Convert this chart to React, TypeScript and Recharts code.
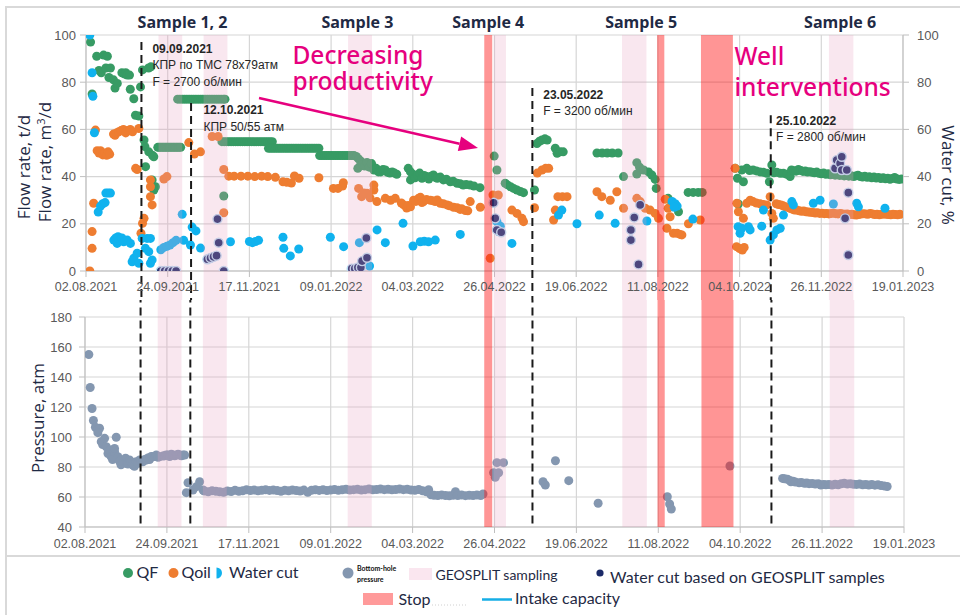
import React from "react";
import {
  ScatterChart, Scatter, XAxis, YAxis, CartesianGrid,
  ReferenceArea, ReferenceLine, ReferenceDot,
} from "recharts";

// x values are days counted from 02.08.2021
const dateTicks = [0, 53.5, 107, 160.5, 214, 267.5, 321, 374.5, 428, 481.5, 535];
const dateLabels = [
  "02.08.2021", "24.09.2021", "17.11.2021", "09.01.2022", "04.03.2022", "26.04.2022",
  "19.06.2022", "11.08.2022", "04.10.2022", "26.11.2022", "19.01.2023",
];
const flowTicks = [0, 20, 40, 60, 80, 100];
const pressureTicks = [40, 60, 80, 100, 120, 140, 160, 180];

// QF, t/d
const qf: [number, number][] = [
  [3, 97], [4, 75], [7, 91], [8.5, 85], [10, 84], [11.5, 91.5], [13, 86], [14, 91], [15, 82], [16, 86],
  [18, 81], [19, 77.5], [20.5, 79.5], [23.5, 84], [25, 83.5], [26, 84], [27, 83], [28.5, 83], [29, 77],
  [31.3, 73], [32.4, 66], [34.6, 65.7], [35.7, 78], [37, 85.2], [38, 55.5], [38.6, 52.7], [39, 44.2],
  [41, 86], [42.5, 86.5], [41.1, 50.5], [43.5, 49], [43.3, 38.6], [44.4, 48.4], [44.4, 34.3], [45.5, 35.7],
  [47, 52.4], [48, 52.4], [49, 52.4], [50, 52.4], [51, 52.4], [52, 52.4], [53, 52.4], [54, 52.4],
  [55, 52.4], [56, 52.4], [57, 52.4], [58, 52.4], [59, 52.4], [60, 52.4], [61, 52.4], [62, 52.4],
  [60, 72.8], [61.5, 72.8], [63, 72.8], [64.5, 72.8], [66, 72.8], [67.5, 72.8], [69, 72.8], [70.5, 72.8],
  [72, 72.8], [73.5, 72.8], [75, 72.8], [76.5, 72.8], [78, 72.8], [79.5, 72.8], [81, 72.8], [82.5, 72.8],
  [84, 72.8], [85.5, 72.8], [87, 72.8], [88.5, 72.8], [90, 72.8], [91, 72.8],
  [90.2, 31.8],
  [89, 54.8], [90.5, 54.8], [92, 54.8], [93.5, 54.8], [95, 54.8], [96.5, 54.8], [98, 54.8], [99.5, 54.8],
  [101, 54.8], [102.5, 54.8], [104, 54.8], [105.5, 54.8], [107, 54.8], [108.5, 54.8], [110, 54.8],
  [111.5, 54.8], [113, 54.8], [114.5, 54.8], [116, 54.8], [117.5, 54.8], [119, 54.8], [120.5, 54.8], [122, 54.8],
  [119.5, 52], [121, 52], [122.5, 52], [124, 52], [125.5, 52], [127, 52], [128.5, 52], [130, 52],
  [131.5, 52], [133, 52], [134.5, 52], [136, 52], [137.5, 52], [139, 52], [140.5, 52], [142, 52],
  [143.5, 52], [145, 52], [146.5, 52], [148, 52], [149.5, 52], [151, 52], [152.5, 52],
  [153, 48.9], [154.5, 48.9], [156, 48.9], [157.5, 48.9], [159, 48.9], [160.5, 48.9], [162, 48.9],
  [163.5, 48.9], [165, 48.9], [166.5, 48.9], [168, 48.9], [169.5, 48.9], [171, 48.9], [172.5, 48.9],
  [174, 48.9], [175.5, 48.9], [177, 48.5], [178.5, 47.5], [180, 46.5],
  [178, 43.5], [179.5, 44.5], [181, 45], [182.5, 44.5], [184, 46], [185.5, 44], [187, 45.5],
  [188.5, 42.8], [190, 43.5], [191.5, 42], [193, 42], [194.5, 43], [196, 42.8], [197.5, 41.8],
  [199, 41.5], [200.5, 42], [202, 41.5], [203.5, 41],
  [211, 43.5], [212.5, 42], [212.5, 38.6], [214, 41], [215.5, 39.5], [217, 40.7], [218.5, 41.5],
  [220, 39.3], [221.5, 40.5], [223, 40], [224.5, 39], [226, 40.2], [227.5, 40.7], [229, 39.6],
  [230, 39.3], [232, 39.8], [234, 38.6], [236, 38.9], [238.5, 37.8], [240.5, 38], [243, 37.2],
  [245, 37], [247, 36.4], [249, 36.6], [251.5, 36.4], [254, 36], [258, 35.3],
  [267.3, 48.7], [269.1, 42.8], [274.5, 37.2], [276, 36.5], [278, 35.7], [280, 35], [282.2, 34.3],
  [284.5, 33.7], [286.5, 33.2],
  [293.7, 34.3], [295.3, 54], [297, 55], [298.6, 55.5], [300.5, 56], [302, 55.5], [307.3, 52],
  [308.5, 49.9], [310.5, 50.5], [312.5, 50.5],
  [334.6, 50], [338, 50], [341.3, 50], [344.6, 50], [348.5, 50],
  [352, 40], [360.7, 45.9], [360.7, 41.1], [362.5, 44], [365.1, 42.8], [368.3, 42], [370.5, 40.7],
  [372.7, 38.8], [373.4, 35],
  [381.2, 30.8], [383.5, 29], [386, 27.2], [388, 25.1],
  [394.3, 33.3], [397.6, 33.3], [400.9, 33.3], [403.5, 33.3],
  [425.1, 43.5], [426.6, 39.3], [427.2, 28.4], [429.4, 42.8], [430.5, 37.8], [432.7, 43.5], [434.5, 42.6],
  [436.8, 42.8], [439, 42.4], [441.4, 42], [443.6, 41.8], [445.8, 41.4], [447.5, 37.8], [449.1, 44.9],
  [450.5, 41.6], [452.4, 41.8], [454.6, 41.4], [456.7, 41.4], [458.9, 41], [461.1, 40],
  [462, 42.8], [463.5, 42.5], [465, 42.3], [466.5, 43], [468, 42.6], [469.5, 42.2], [471, 42.4],
  [472.5, 41.9], [474, 42.1], [475.5, 41.8], [477, 41.6], [478.5, 41.9], [480, 41.4], [481.5, 41.2],
  [483, 41.5], [484.5, 41], [486, 41.2], [487.5, 40.8], [489, 41], [490.5, 40.6], [492, 40.8],
  [493.5, 40.5], [495, 40.7], [496.5, 40.3], [498, 40.5], [499.5, 40.2], [501, 40.4], [502.5, 40],
  [504, 40.3], [505.5, 40.6], [507, 40], [508.5, 39.8], [510, 40.1], [511.5, 39.7], [513, 39.9],
  [514.5, 39.5], [516, 39.8], [517.5, 39.4], [519, 39.6], [520.5, 39.2], [522, 39.5], [523.5, 39.1],
  [525, 39.3], [526.5, 38.9], [528, 39.2], [529.5, 39.6], [531, 39], [532.5, 38.8], [534, 39],
];

// Qoil, m3/d
const qoil: [number, number][] = [
  [2.5, 0], [4, 16.7], [4, 9.6], [5, 28.7], [6.2, 59.7], [7.3, 51], [8.5, 50], [9.5, 51], [11, 49.2],
  [12.3, 50], [13.5, 49], [14.5, 50.5], [15.5, 49.5],
  [18, 58], [19, 57.5], [20, 58.5], [21.5, 59], [23, 59.5], [24.5, 60], [26, 58.5], [27.5, 59.5],
  [29, 60], [30.5, 59],
  [32.5, 43.5], [33.5, 43], [34.6, 60.4], [36, 16], [37, 20.2], [38, 22.3], [42.2, 38.6], [42.2, 35.7],
  [42.2, 31.5], [43.3, 28], [51, 39], [53, 40],
  [67.3, 54.4], [71, 49.6], [75, 50.5], [82.6, 57], [86.5, 57], [90.2, 24.7], [90.2, 43],
  [93.5, 40.2], [97, 40.2], [101.5, 40.2], [106, 40.2], [110.5, 40], [115, 40.2], [119, 40], [124, 39.7],
  [129, 37.8], [131.5, 37.6], [134.5, 37.3], [136.5, 40.3], [139.5, 39.3], [152.5, 39.5],
  [162, 35], [165, 35], [168, 36], [168.5, 37.4], [178.5, 35], [180.5, 31.5], [182, 33], [184, 32.9],
  [186, 31], [188.5, 36.4], [188.5, 34.3], [190.5, 29.4], [196, 30.8], [199.5, 30], [202.5, 30.8],
  [206.5, 28.8], [208, 28], [210, 26.7], [211, 27.8], [212.5, 27.2], [214.5, 30], [216, 29.5],
  [217.8, 30.8], [219, 31.2], [220, 29], [221, 29.4], [223, 30.3], [225.5, 30], [227, 29.8],
  [228.7, 29.4], [230, 30.1], [232, 28.7], [234, 28.5], [236.4, 28], [238, 27.6], [240.7, 27],
  [243, 26.8], [245, 26.1], [246, 26.4], [248.4, 25.6], [250, 25.5], [251.6, 29.4], [258.2, 27],
  [264.7, 5.4], [266.5, 32.2], [270, 32.2], [278.9, 25.8], [282.2, 24.4], [285.5, 22.3], [286.5, 20.9],
  [293.7, 26.8], [295.5, 41.5], [298.6, 42.8], [301, 43.5], [303, 43.5], [306.2, 21.6], [307.3, 25.8],
  [309, 31.5], [312, 31.5], [315, 31.5],
  [334.6, 33.6], [337.8, 31.5], [343.3, 30], [347.6, 33.6], [352, 26.6], [360.7, 30.8], [362.9, 29.4],
  [366.2, 26.6], [369.4, 25.8], [372.7, 24.4], [374.9, 22.3],
  [379.3, 30.4], [381.2, 26.6], [382.5, 23], [380.4, 18.1], [384.7, 16], [387.1, 16], [389, 15.5],
  [390.2, 15.3], [394.5, 20], [402.2, 21.6],
  [425.1, 43.5], [426.2, 28.7], [427.2, 25.1], [430.5, 22.3], [426, 10.3], [428, 9.5], [429.8, 8.9],
  [431, 10], [432.7, 28.7], [434.9, 30], [436.8, 29.4], [439, 28.8], [441.4, 28.5], [443.6, 28.2],
  [445.8, 28], [448, 31.5], [449.1, 24.4], [450.1, 22.3],
  [452, 28.5], [453.5, 28.2], [455, 28], [456.5, 27.6], [458, 27.2], [459.5, 27], [461, 26.6],
  [462.5, 26.2], [464, 25.8], [465.5, 25.8], [467, 25.5], [468.5, 25.3], [470, 25.4], [471.5, 25.1],
  [473, 25], [474.5, 24.9], [476, 24.8], [477.5, 24.6], [479, 24.7], [480.5, 24.4], [482, 24.5],
  [483.5, 24.3], [485, 24.4], [486.5, 24.2], [488, 24.4], [489.5, 24.5], [491, 24.3], [492.5, 24.2],
  [494, 24.4], [495.5, 24.1], [497, 24], [498.5, 24.2], [500, 23.9], [501.5, 24], [503, 23.8],
  [504.5, 23.7], [506, 23.9], [507.5, 24.1], [509, 24.3], [510.5, 24.2], [512, 24], [513.5, 24.4],
  [515, 24.2], [516.5, 23.9], [518, 24], [519.5, 23.8], [521, 24], [522.5, 24.1], [524, 24],
  [525.5, 23.9], [527, 23.8], [528.5, 24], [530, 23.9], [531.5, 23.8], [533, 24],
];

// Water cut, %
const waterCut: [number, number][] = [
  [2.5, 100], [4, 84], [4.5, 74], [5.5, 58.6], [8, 25], [9.5, 27.5], [11, 28.5], [12.5, 29], [13, 33],
  [14.5, 33], [16, 33],
  [18.2, 13.1], [19.5, 14], [20.4, 11.7], [21, 14.5], [22.6, 13.1], [23.5, 14], [24.7, 12.4], [27, 13.1],
  [29.1, 11.7], [30.2, 3.9], [31.3, 5.4], [33.5, 7.5], [34.6, 3.3], [36.8, 13.8], [38.9, 9.6], [40, 13.8],
  [41.1, 8.2], [42.2, 13.8], [42.2, 3.3], [43.3, 4.7],
  [49, 9], [51, 10], [53, 10.5], [55, 11], [57, 12], [59, 13], [63, 24], [64, 13], [68.4, 11],
  [69.5, 18.6], [72, 17], [75, 9.7], [94.6, 12.4], [107, 12.5], [109, 12], [111, 12.5], [113, 13],
  [129, 14.3], [129.5, 9.6], [133.8, 6.4], [139.3, 9.3], [160, 14.3], [168.7, 10.3], [179, 12],
  [185.7, 2.1], [190.6, 17.4], [196, 12], [207.6, 20.2], [214.1, 10.6], [218.9, 12.4], [221.5, 12.6],
  [224.3, 12.4], [228.7, 13.1], [245.1, 15.5],
  [269.1, 20.9], [270.2, 16.7], [271.3, 19], [278.9, 11.7], [309.4, 23.7], [311.6, 25.8], [321.5, 20],
  [336.1, 23.7], [346.5, 20.2], [367.3, 21.2],
  [383.8, 29.5], [385.8, 28.5], [387.1, 27.5], [385.2, 27], [397.4, 22],
  [427, 18.8], [428.3, 16], [429.4, 18.1], [433.8, 18.8], [434.9, 17.4], [442.5, 19], [443.6, 25.8],
  [448, 13.1], [450.1, 15.3], [452.4, 17.4], [454.6, 18.1], [456.7, 23.7], [462.2, 29.4], [463.2, 28],
  [476.3, 28.7], [480.7, 30], [489.4, 28.4], [504.7, 28.7], [505.8, 27.2], [523.2, 26.6],
];

// Water cut based on GEOSPLIT samples, %
const geosplitCut: [number, number][] = [
  [49, 0], [51.5, 0], [54, 0], [56.5, 0], [59, 0], [79.5, 5], [81.5, 5.5], [83.5, 6], [85.5, 6.5],
  [86.1, 22], [86.9, 12], [90.2, 0],
  [174, 1], [176, 1], [178, 1.5], [180, 1.5], [180.8, 4.2], [183.6, 14], [184, 5.6],
  [266.9, 28.9], [268, 22.3], [269.1, 17.4], [271.9, 16.4],
  [356.8, 17.4], [356.8, 13.1], [359, 22.7], [361.8, 2.8], [362.9, 28],
  [490.5, 43.5], [491.6, 47], [493.8, 45.6], [494.9, 48.4], [494.9, 42.8], [497.1, 22.3], [498.2, 42.8],
  [499.2, 33.2], [499.2, 6.8],
];

// Bottom-hole pressure, atm
const pressure: [number, number][] = [
  [2.5, 155], [3.4, 133], [4.6, 119], [5.5, 111], [6.8, 106.5], [8.4, 104.7], [9.5, 105.8], [8.4, 102.9],
  [10.6, 96.9], [11.5, 95], [12.8, 99.1], [13.9, 93.5], [15, 89], [16, 91.3], [17.1, 86.9], [18, 85],
  [19.3, 90.2], [20.4, 99.8], [19.3, 92.4], [21.5, 86.9], [22.5, 84], [23.5, 81.5], [24.7, 82.4],
  [26.5, 85.8], [27.5, 83], [28, 82], [29.1, 84.7], [30, 83.5], [31.3, 81.3], [32.3, 80.5], [33.5, 83.5],
  [34.6, 82.5], [35.7, 84.7], [36.8, 84], [37.8, 83.5], [39, 85], [40, 84.7], [41.1, 86], [42.2, 85],
  [43.3, 87], [44.4, 86.9], [45.5, 87], [46.6, 88], [47.7, 86.5], [48.8, 86.9], [50.9, 87.3],
  [52, 87.5], [53.1, 88], [54.2, 88], [55.3, 87], [56.4, 88.5], [57.5, 88], [58.6, 87.5], [59.7, 88],
  [60.8, 88.5], [61.8, 88], [63, 87.5], [64, 88], [65.1, 88],
  [66.2, 62.9], [67.3, 69.5], [70.5, 64.7], [72.8, 66.9], [74.9, 70.2], [77.1, 64.7],
  [78, 64], [80.5, 63.5], [83, 64.2], [85.5, 63.8], [88, 63.5], [90.5, 63.2], [93, 64], [95.5, 63.6],
  [98, 64.5], [100.5, 63.8], [103, 64.2], [105.5, 64.8], [108, 64.3], [110.5, 64.6], [113, 64.2],
  [115.5, 64.5], [118, 64.8], [120.5, 64.4], [123, 64.6], [125.5, 64.3], [128, 63.8], [130.5, 64.5],
  [133, 64.2], [135.5, 64.7], [138, 64.3], [140.5, 64], [143, 64.6], [145.5, 63.2], [148, 64.5],
  [150.5, 64.8], [153, 64.4], [155.5, 64.8], [158, 64.3], [160.5, 64.6], [163, 65], [165.5, 64.5],
  [168, 64.8], [170.5, 65.2], [173, 64.7], [175.5, 64.9], [178, 65.1], [180.5, 64.6], [183, 64.9],
  [185.5, 65.3], [188, 64.8], [190.5, 65], [193, 65.3], [195.5, 64.9], [198, 65.2], [200.5, 64.8],
  [203, 65], [205.5, 65.3], [208, 64.9], [210.5, 65.2], [213, 64.7], [215.5, 64.5], [218, 65],
  [220.5, 64.2], [223, 63.5], [224.5, 64.8], [226, 61.5], [228, 61.2], [230.5, 61], [233, 61.4],
  [235.5, 61], [238, 60.8], [240.5, 61.2], [242, 63.5], [243.5, 61], [246, 61.3], [248.5, 60.9],
  [251, 61.2], [253.5, 61], [256, 61.3], [258.5, 61], [260, 62],
  [266.9, 76.2], [268, 73.1], [269.1, 82.9], [270.2, 76.2], [273.4, 82.9],
  [299.2, 70.2], [300.7, 68], [307.3, 84.2], [316, 70.9], [335.2, 55.8],
  [380.4, 60.2], [381.9, 55.3], [383, 52], [421.3, 80.7],
  [455.7, 72.4], [457, 72.2], [458.9, 71.8], [460.5, 71], [461.1, 70.2], [462.5, 70.5], [464, 70],
  [466.5, 69.5], [468, 69.6], [470, 69.2], [471.5, 69.3], [473, 68.9], [475, 69], [477, 68.6],
  [479, 68.8], [480.7, 68], [482.5, 68.4], [484, 68.1], [486, 68.3], [488, 68], [490, 68.5], [492, 68.2],
  [494, 68.8], [496, 69.1], [498, 68.7], [500, 68.9], [502, 68.5], [504, 68.4], [506, 68.6], [508, 68.2],
  [510, 68.4], [512, 68], [514, 68.3], [516, 67.9], [518, 68.1], [520, 67.6], [522, 67.4], [524, 67],
];

// day ranges
const geosplitBands: [number, number][] = [
  [47.5, 63], [77, 92.6], [171.6, 187.3], [267, 275], [351, 367], [486.5, 502.5],
];
const stopBands: [number, number][] = [[260.8, 266], [374, 378.7], [402.7, 423.6]];

// dashed event lines: day and top value on the flow axis
const eventDays = [36.3, 68.8, 292.3, 448.4];
const eventTops = [97, 71.2, 77.5, 66];

const notes = [
  { d: 43.5, v: 92.4, lines: ["09.09.2021", "КПР по ТМС 78x79атм", "F = 2700 об/мин"] },
  { d: 76.9, v: 66.5, lines: ["12.10.2021", "КПР 50/55 атм"] },
  { d: 299.4, v: 72.9, lines: ["23.05.2022", "F = 3200 об/мин"] },
  { d: 451.9, v: 61.9, lines: ["25.10.2022", "F = 2800 об/мин"] },
];

const samples = [
  { d: 63.2, label: "Sample 1, 2" },
  { d: 177.7, label: "Sample 3" },
  { d: 263.4, label: "Sample 4" },
  { d: 363.5, label: "Sample 5" },
  { d: 493.8, label: "Sample 6" },
];

const callouts = [
  { d: 135.2, v: 87.7, lines: ["Decreasing", "productivity"], gap: 26 },
  { d: 424.6, v: 87.3, lines: ["Well", "interventions"], gap: 31 },
];

const GREEN = "#379b64";
const ORANGE = "#ee7d31";
const BLUE = "#10b2ee";
const NAVY = "#1b2a68";
const GRAY = "#8497b0";
const MAGENTA = "#e6007e";
const INK = "#1f2a44";
const GRID = "#d6d6d6";
const AXIS = "#bfbfbf";
const TICK = "#595959";

const pts = (arr: [number, number][]) => arr.map(([d, v]) => ({ d, v }));
const fmtDate = (v: number) => dateLabels[dateTicks.indexOf(v)] ?? "";

const dot = (fill: string, stroke?: string) => (p: any) => (
  <circle cx={p.cx} cy={p.cy} r={4.5} fill={fill} stroke={stroke ?? "none"} strokeWidth={stroke ? 1.4 : 0} />
);

const xTick = { fill: TICK, fontSize: 12.5, fontFamily: "Liberation Sans, Arial, sans-serif" };
const yTick = { fill: TICK, fontSize: 13, fontFamily: "Liberation Sans, Arial, sans-serif" };

const noteShape = (lines: string[]) => (p: any) => (
  <text x={p.cx} y={p.cy} fontFamily="Liberation Sans, Arial, sans-serif" fontSize={12} fill="#262626">
    {lines.map((l, i) => (
      <tspan key={i} x={p.cx} dy={i ? 16.5 : 0} fontWeight={i ? 400 : 700}>{l}</tspan>
    ))}
  </text>
);

const calloutShape = (lines: string[], gap: number) => (p: any) => (
  <text x={p.cx} y={p.cy} fontFamily="Noto Sans, sans-serif" fontSize={24.5} fontWeight={500} fill={MAGENTA}>
    {lines.map((l, i) => (
      <tspan key={i} x={p.cx} dy={i ? gap : 0}>{l}</tspan>
    ))}
  </text>
);

const sampleShape = (label: string) => (p: any) => (
  <text x={p.cx} y={p.cy - 7.5} textAnchor="middle" fontFamily="Open Sans, sans-serif"
    fontWeight={700} fontSize={16} fill={INK}>{label}</text>
);

const arrowShape = (p: any) => {
  const { x1, y1, x2, y2 } = p;
  const a = Math.atan2(y2 - y1, x2 - x1);
  const bx = x2 - 19 * Math.cos(a);
  const by = y2 - 19 * Math.sin(a);
  const ox = -Math.sin(a) * 7.5;
  const oy = Math.cos(a) * 7.5;
  return (
    <g>
      <line x1={x1} y1={y1} x2={bx} y2={by} stroke={MAGENTA} strokeWidth={2.6} />
      <polygon points={`${x2},${y2} ${bx + ox},${by + oy} ${bx - ox},${by - oy}`} fill={MAGENTA} />
    </g>
  );
};

function TopChart() {
  return (
    <ScatterChart width={960} height={300} margin={{ top: 35, right: 0, bottom: 0, left: 0 }}>
      <CartesianGrid yAxisId="left" stroke={GRID} strokeWidth={1.2} />
      <XAxis type="number" dataKey="d" domain={[0, 535]} ticks={dateTicks} interval={0}
        tickFormatter={fmtDate} height={29} tick={xTick} tickMargin={5}
        tickLine={{ stroke: AXIS }} axisLine={{ stroke: AXIS }} allowDataOverflow />
      <YAxis yAxisId="left" type="number" dataKey="v" domain={[0, 100]} ticks={flowTicks}
        width={86} tick={yTick} tickMargin={4} tickLine={{ stroke: AXIS }} axisLine={{ stroke: AXIS }}
        allowDataOverflow />
      <YAxis yAxisId="right" orientation="right" type="number" dataKey="v" domain={[0, 100]}
        ticks={flowTicks} width={57} tick={yTick} tickMargin={8} tickLine={{ stroke: AXIS }}
        axisLine={{ stroke: AXIS }} allowDataOverflow />
      <Scatter name="QF" data={pts(qf)} yAxisId="left" shape={dot(GREEN)} isAnimationActive={false} />
      <Scatter name="Qoil" data={pts(qoil)} yAxisId="left" shape={dot(ORANGE)} isAnimationActive={false} />
      <Scatter name="Water cut" data={pts(waterCut)} yAxisId="right" shape={dot(BLUE)} isAnimationActive={false} />
      <Scatter name="Water cut based on GEOSPLIT samples" data={pts(geosplitCut)} yAxisId="right"
        shape={dot(NAVY, "#b9dcf2")} isAnimationActive={false} />
      {geosplitBands.map(([a, b], i) => (
        <ReferenceArea key={`g${i}`} yAxisId="left" x1={a} x2={b} y1={-13} y2={100} fill="#e79fbf"
          fillOpacity={0.25} stroke="none" ifOverflow="visible" zIndex={700} />
      ))}
      {stopBands.map(([a, b], i) => (
        <ReferenceArea key={`s${i}`} yAxisId="left" x1={a} x2={b} y1={-13} y2={100} fill="#ff1414"
          fillOpacity={0.45} stroke="none" ifOverflow="visible" zIndex={700} />
      ))}
      {eventDays.map((d, i) => (
        <ReferenceLine key={`e${i}`} yAxisId="left" segment={[{ x: d, y: eventTops[i] }, { x: d, y: -13 }]}
          stroke="#1a1a1a" strokeWidth={2} strokeDasharray="8 5" ifOverflow="visible" zIndex={800} />
      ))}
      <ReferenceLine yAxisId="left" segment={[{ x: 113.3, y: 73.3 }, { x: 256.7, y: 52.1 }]}
        shape={arrowShape} ifOverflow="visible" zIndex={850} />
      {notes.map((n, i) => (
        <ReferenceDot key={`n${i}`} yAxisId="left" x={n.d} y={n.v} r={0} shape={noteShape(n.lines)}
          ifOverflow="visible" zIndex={900} />
      ))}
      {callouts.map((c, i) => (
        <ReferenceDot key={`c${i}`} yAxisId="left" x={c.d} y={c.v} r={0} shape={calloutShape(c.lines, c.gap)}
          ifOverflow="visible" zIndex={900} />
      ))}
      {samples.map((s, i) => (
        <ReferenceDot key={`p${i}`} yAxisId="left" x={s.d} y={100} r={0} shape={sampleShape(s.label)}
          ifOverflow="visible" zIndex={900} />
      ))}
    </ScatterChart>
  );
}

function BottomChart() {
  return (
    <ScatterChart width={960} height={255} margin={{ top: 17, right: 56, bottom: 0, left: 0 }}>
      <CartesianGrid yAxisId="p" stroke={GRID} strokeWidth={1.2} />
      <XAxis type="number" dataKey="d" domain={[0, 535]} ticks={dateTicks} interval={0}
        tickFormatter={fmtDate} height={28} tick={xTick} tickMargin={6}
        tickLine={{ stroke: AXIS }} axisLine={{ stroke: AXIS }} allowDataOverflow />
      <YAxis yAxisId="p" type="number" dataKey="v" domain={[40, 180]} ticks={pressureTicks}
        width={85} tick={yTick} tickMargin={7} tickLine={{ stroke: AXIS }} axisLine={{ stroke: AXIS }}
        allowDataOverflow />
      <Scatter name="Bottom-hole pressure" data={pts(pressure)} yAxisId="p" shape={dot(GRAY)}
        isAnimationActive={false} />
      {geosplitBands.map(([a, b], i) => (
        <ReferenceArea key={`g${i}`} yAxisId="p" x1={a} x2={b} y1={40} y2={195} fill="#e79fbf"
          fillOpacity={0.25} stroke="none" ifOverflow="visible" zIndex={700} />
      ))}
      {stopBands.map(([a, b], i) => (
        <ReferenceArea key={`s${i}`} yAxisId="p" x1={a} x2={b} y1={40} y2={195} fill="#ff1414"
          fillOpacity={0.45} stroke="none" ifOverflow="visible" zIndex={700} />
      ))}
      {eventDays.map((d, i) => (
        <ReferenceLine key={`e${i}`} yAxisId="p" segment={[{ x: d, y: 195 }, { x: d, y: 41 }]}
          stroke="#1a1a1a" strokeWidth={2} strokeDasharray="8 5" ifOverflow="visible" zIndex={800} />
      ))}
    </ScatterChart>
  );
}

const titleStyle: React.CSSProperties = {
  position: "absolute", whiteSpace: "nowrap", fontFamily: "Open Sans, sans-serif",
  fontSize: 17, color: INK, lineHeight: 1,
};

function Title({ x, y, deg, children }: { x: number; y: number; deg: number; children: React.ReactNode }) {
  return (
    <div style={{ ...titleStyle, left: x, top: y, transform: `translate(-50%, -50%) rotate(${deg}deg)` }}>
      {children}
    </div>
  );
}

function LegendBox() {
  const f = "Lato, sans-serif";
  return (
    <svg width={960} height={60} style={{ position: "absolute", left: 0, top: 555 }}>
      <circle cx={128} cy={18} r={5} fill={GREEN} />
      <text x={136.5} y={22.5} fontFamily={f} fontSize={16} fill={INK}>QF</text>
      <circle cx={173.5} cy={18} r={5} fill={ORANGE} />
      <text x={181.5} y={22.5} fontFamily={f} fontSize={16} fill={INK}>Qoil</text>
      <path d="M216.5,12.5 A5.5,5.5 0 0 1 216.5,23.5 Z" fill={BLUE} />
      <text x={229} y={22.5} fontFamily={f} fontSize={16} fill={INK}>Water cut</text>
      <circle cx={348} cy={18} r={5.5} fill={GRAY} />
      <text x={357} y={15.5} fontFamily={f} fontSize={7} fontWeight={700} fill="#111">Bottom-hole</text>
      <text x={357} y={26.5} fontFamily={f} fontSize={7} fontWeight={700} fill="#111">pressure</text>
      <rect x={409} y={13} width={23} height={12} fill="#fae6ef" />
      <text x={435.5} y={25} fontFamily={f} fontSize={14} fill={INK}>GEOSPLIT sampling</text>
      <circle cx={600} cy={18} r={3.6} fill={NAVY} />
      <text x={610} y={28} fontFamily={f} fontSize={16} fill={INK}>Water cut based on GEOSPLIT samples</text>
      <rect x={363} y={38} width={30} height={12} fill="#ff9a9a" />
      <text x={398.5} y={49.5} fontFamily={f} fontSize={16} fill={INK}>Stop</text>
      <line x1={432} y1={50} x2={467} y2={50} stroke="#d0d0d0" strokeWidth={1} strokeDasharray="1 2" />
      <line x1={482} y1={44.5} x2={512} y2={44.5} stroke="#16aee6" strokeWidth={2.5} />
      <text x={515} y={48.5} fontFamily={f} fontSize={16} fill={INK}>Intake capacity</text>
    </svg>
  );
}

export default function App() {
  return (
    <div style={{ position: "absolute", left: 0, top: 0, width: 960, height: 615, overflow: "hidden", background: "#fff" }}>
      <div style={{ position: "absolute", left: 5, top: 6, width: 1000, height: 551, boxSizing: "border-box", border: "2px solid #d9d9d9" }} />
      <div style={{ position: "absolute", left: 5, top: 557, width: 1000, height: 100, borderLeft: "2px solid #d9d9d9" }} />
      <div style={{ position: "absolute", left: 0, top: 0 }}>
        <TopChart />
      </div>
      <div style={{ position: "absolute", left: 0, top: 300 }}>
        <BottomChart />
      </div>
      <Title x={23} y={167} deg={-90}>Flow rate, t/d</Title>
      <Title x={44} y={162} deg={-90}>Flow rate, m<sup style={{ fontSize: 11 }}>3</sup>/d</Title>
      <Title x={948} y={175} deg={90}>Water cut, %</Title>
      <Title x={37} y={418} deg={-90}>Pressure, atm</Title>
      <LegendBox />
    </div>
  );
}
